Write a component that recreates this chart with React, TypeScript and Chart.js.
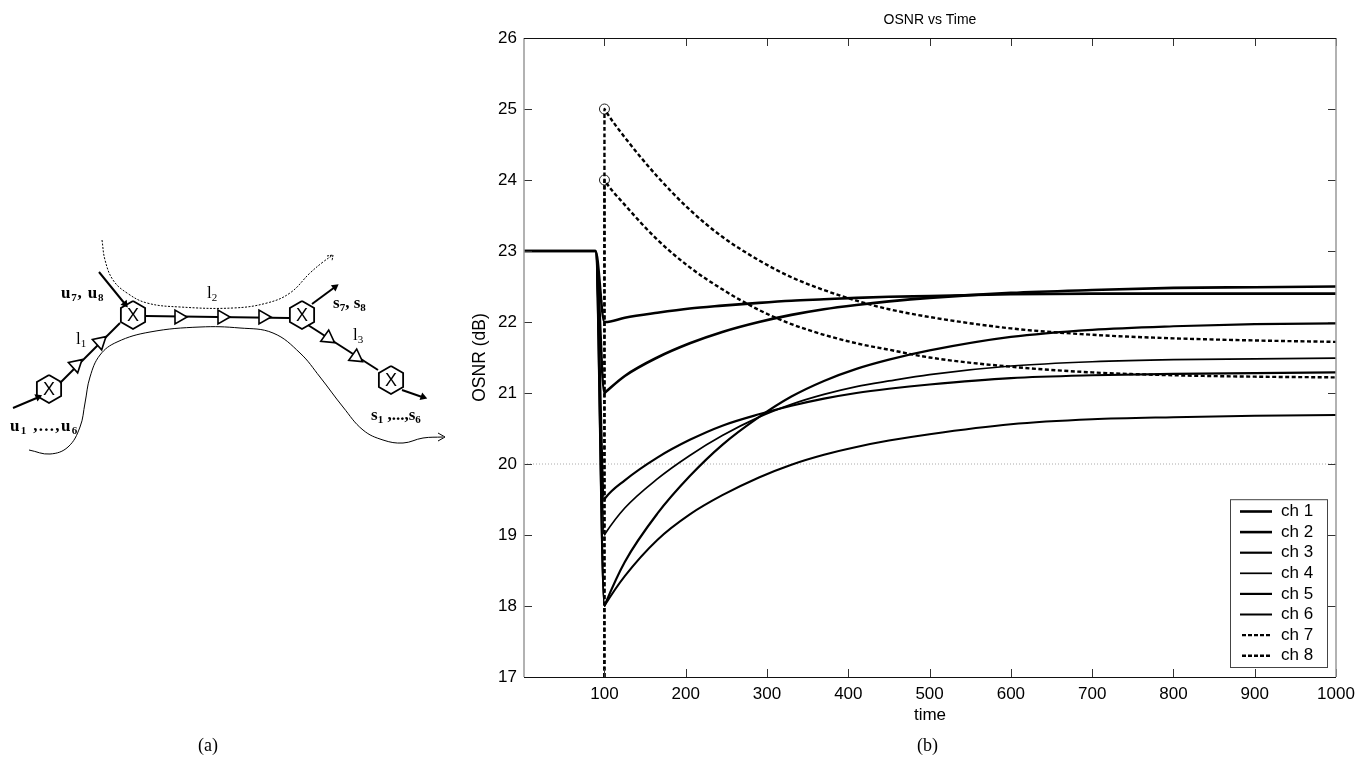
import React, { useEffect, useRef } from "react";
import { Chart, registerables } from "chart.js";

Chart.register(...registerables);

const SANS = "'Liberation Sans', Arial, sans-serif";

// ---- panel (b) data ----
const times = [1, 89, 100, 101, 125, 165, 205, 245, 290, 330, 370, 410, 450, 500, 600, 700, 800, 900, 1000];
const ch1 = [23, 23, 21, 21.01, 21.24, 21.5, 21.7, 21.86, 22, 22.1, 22.18, 22.24, 22.29, 22.34, 22.41, 22.45, 22.48, 22.49, 22.5];
const ch2 = [23, 23, 22, 22, 22.06, 22.13, 22.19, 22.23, 22.27, 22.3, 22.32, 22.34, 22.355, 22.365, 22.39, 22.4, 22.4, 22.4, 22.4];
const ch3 = [23, 23, 19.5, 19.52, 19.77, 20.09, 20.34, 20.54, 20.7, 20.82, 20.92, 21, 21.06, 21.12, 21.21, 21.25, 21.27, 21.28, 21.29];
const ch4 = [23, 23, 19, 19.02, 19.38, 19.79, 20.12, 20.4, 20.66, 20.84, 20.98, 21.09, 21.17, 21.26, 21.38, 21.44, 21.47, 21.48, 21.49];
const ch5 = [23, 23, 18, 18.03, 18.62, 19.3, 19.83, 20.27, 20.66, 20.95, 21.17, 21.34, 21.47, 21.6, 21.79, 21.89, 21.94, 21.97, 21.98];
const ch6 = [23, 23, 18, 18.02, 18.42, 18.93, 19.29, 19.56, 19.81, 19.99, 20.13, 20.24, 20.33, 20.42, 20.56, 20.63, 20.66, 20.68, 20.69];
const dashedTimes = [99.9, 100, 101, 125, 165, 205, 245, 290, 330, 370, 410, 450, 500, 600, 700, 800, 900, 1000];
const ch7 = [17, 25, 24.98, 24.6, 24.05, 23.58, 23.2, 22.87, 22.63, 22.45, 22.3, 22.18, 22.07, 21.91, 21.82, 21.77, 21.74, 21.72];
const ch8 = [17, 24, 23.98, 23.65, 23.16, 22.77, 22.46, 22.17, 21.97, 21.82, 21.7, 21.61, 21.5, 21.37, 21.29, 21.25, 21.23, 21.22];
const markerTimes = [100, 100];
const markerValues = [25, 24];
const refLineTimes = [1, 1000];
const refLineValues = [20, 20];
const xTicks = [100, 200, 300, 400, 500, 600, 700, 800, 900, 1000];
const yTicks = [17, 18, 19, 20, 21, 22, 23, 24, 25, 26];
const legendNames = ["ch 1", "ch 2", "ch 3", "ch 4", "ch 5", "ch 6", "ch 7", "ch 8"];
const lineWidths = [2.6, 2.6, 2.2, 1.7, 2.2, 2, 2.4, 2.4];

// ---- panel (a) schematic ----
const hexCentres: number[][] = [[49, 389], [133, 315], [302, 315], [391, 380]];
const links: number[][][] = [
  [[13, 408], [39, 397]],
  [[60, 383], [120, 323]],
  [[146, 316], [289, 318]],
  [[308, 325], [378, 370]],
  [[402, 390], [425, 398]],
  [[312, 304], [335, 287]],
  [[99, 272], [125, 304]],
];
const amplifiers: number[][] = [[76, 365, 48], [100, 342, 48], [179, 317, 90], [222, 317, 90], [263, 317, 90], [328, 338, 125], [356, 357, 125]];
const arrowHeads: number[][] = [[38, 397, 66], [335, 287, 54], [125, 304, 142], [423, 397, 110]];
const lowerCurve: number[][] = [[29, 450], [50, 454], [68, 447], [80, 427], [85, 403], [90, 377], [100, 355], [117, 342], [150, 332], [200, 327], [240, 328], [273, 333], [300, 353], [320, 377], [343, 407], [363, 430], [383, 440], [403, 443], [423, 438], [443, 437]];
const lowerTip: number[][] = [[438, 433], [445, 437], [438, 441]];
const upperCurve: number[][] = [[102, 240], [105, 260], [113, 280], [127, 293], [147, 303], [180, 307], [233, 308], [267, 303], [290, 293], [310, 273], [323, 262], [333, 255]];
const upperTip: number[][] = [[327, 256], [333, 255], [332, 261]];
const hexRadius = 14;

function toXY(xs: number[], ys: number[]) {
  return xs.map((x, i) => ({ x, y: ys[i] }));
}
function hexagon([cx, cy]: number[]) {
  const out = [];
  for (let i = 0; i <= 6; i++) {
    const a = (Math.PI / 3) * i;
    out.push({ x: cx + hexRadius * Math.sin(a), y: cy - hexRadius * Math.cos(a) });
  }
  return out;
}
const pts = (list: number[][]) => list.map(([x, y]) => ({ x, y }));

const plotFrame = {
  id: "plotFrame",
  afterDatasetsDraw(chart: any) {
    const { ctx, chartArea: a, scales } = chart;
    const tick = 8;
    ctx.save();
    ctx.strokeStyle = "#333";
    ctx.lineWidth = 1;
    ctx.beginPath();
    xTicks.forEach((v) => {
      const p = Math.round(scales.x.getPixelForValue(v)) + 0.5;
      ctx.moveTo(p, a.bottom);
      ctx.lineTo(p, a.bottom - tick);
      ctx.moveTo(p, a.top);
      ctx.lineTo(p, a.top + tick);
    });
    yTicks.forEach((v) => {
      const p = Math.round(scales.y.getPixelForValue(v)) + 0.5;
      ctx.moveTo(a.left, p);
      ctx.lineTo(a.left + tick, p);
      ctx.moveTo(a.right, p);
      ctx.lineTo(a.right - tick, p);
    });
    ctx.stroke();
    ctx.strokeStyle = "#999";
    ctx.lineWidth = 1.5;
    ctx.beginPath();
    ctx.moveTo(a.left, a.top);
    ctx.lineTo(a.left, a.bottom);
    ctx.moveTo(a.right, a.top);
    ctx.lineTo(a.right, a.bottom);
    ctx.stroke();
    ctx.strokeStyle = "#111";
    ctx.lineWidth = 1;
    ctx.beginPath();
    ctx.moveTo(a.left, a.top + 0.5);
    ctx.lineTo(a.right, a.top + 0.5);
    ctx.moveTo(a.left, a.bottom + 0.5);
    ctx.lineTo(a.right, a.bottom + 0.5);
    ctx.stroke();
    ctx.restore();
  },
};

const boxLegend = {
  id: "boxLegend",
  afterDraw(chart: any) {
    const { ctx, chartArea: a } = chart;
    const right = a.right - 9;
    const bottom = a.bottom - 10;
    const w = 97;
    const rowH = 20.6;
    const h = rowH * legendNames.length + 3;
    const left = right - w;
    const top = bottom - h;
    ctx.save();
    ctx.fillStyle = "#fff";
    ctx.fillRect(left, top, w, h);
    ctx.strokeStyle = "#444";
    ctx.lineWidth = 1;
    ctx.strokeRect(left + 0.5, top + 0.5, w, h);
    ctx.font = `17px ${SANS}`;
    ctx.textBaseline = "middle";
    ctx.textAlign = "left";
    legendNames.forEach((name, i) => {
      const y = top + 2 + rowH * (i + 0.5);
      const dash = i >= 6;
      ctx.strokeStyle = "#000";
      ctx.lineWidth = lineWidths[i];
      ctx.setLineDash(dash ? [4, 2] : []);
      ctx.beginPath();
      ctx.moveTo(left + (dash ? 12 : 10), y);
      ctx.lineTo(left + 42, y);
      ctx.stroke();
      ctx.setLineDash([]);
      ctx.fillStyle = "#000";
      ctx.fillText(name, left + 51, y);
    });
    ctx.restore();
  },
};

const solid = (label: string, data: number[], i: number) => ({
  label,
  data: toXY(times, data),
  borderColor: "#000",
  borderWidth: lineWidths[i],
  pointRadius: 0,
  showLine: true,
  cubicInterpolationMode: "monotone" as const,
  borderJoinStyle: "round" as const,
});
const dashed = (label: string, data: number[], i: number) => ({
  label,
  data: toXY(dashedTimes, data),
  borderColor: "#000",
  borderWidth: lineWidths[i],
  borderDash: [4, 2.5],
  pointRadius: 0,
  showLine: true,
  cubicInterpolationMode: "monotone" as const,
});

function drawOSNR(canvas: HTMLCanvasElement) {
  const tickFont = { family: SANS, size: 17 };
  return new Chart(canvas, {
    type: "scatter",
    data: {
      datasets: [
        solid("ch 1", ch1, 0),
        solid("ch 2", ch2, 1),
        solid("ch 3", ch3, 2),
        solid("ch 4", ch4, 3),
        solid("ch 5", ch5, 4),
        solid("ch 6", ch6, 5),
        dashed("ch 7", ch7, 6),
        dashed("ch 8", ch8, 7),
        {
          label: "peak",
          data: toXY(markerTimes, markerValues),
          pointRadius: 5,
          pointBorderColor: "#222",
          pointBackgroundColor: "rgba(0,0,0,0)",
          pointBorderWidth: 1,
          showLine: false,
        },
        {
          label: "reference",
          data: toXY(refLineTimes, refLineValues),
          borderColor: "#aaa",
          borderWidth: 1,
          borderDash: [1, 2],
          pointRadius: 0,
          showLine: true,
        },
      ] as any,
    },
    options: {
      responsive: false,
      animation: false,
      layout: { autoPadding: false, padding: 0 },
      plugins: {
        legend: { display: false },
        tooltip: { enabled: false },
        title: {
          display: true,
          text: "OSNR vs Time",
          color: "#000",
          font: { family: SANS, size: 14, weight: "normal" },
          padding: { top: 12, bottom: 9.2 },
        },
      },
      scales: {
        x: {
          type: "linear",
          min: 1,
          max: 1000,
          afterBuildTicks: (s: any) => {
            s.ticks = xTicks.map((value) => ({ value }));
          },
          afterFit: (s: any) => {
            s.height = 81;
          },
          grid: { display: false, drawTicks: false },
          border: { display: false },
          ticks: { color: "#000", font: tickFont, padding: 7, maxRotation: 0, autoSkip: false, callback: (v: any) => String(v) },
          title: { display: true, text: "time", color: "#000", font: tickFont, padding: { top: 0, bottom: 32 } },
        },
        y: {
          type: "linear",
          min: 17,
          max: 26,
          afterBuildTicks: (s: any) => {
            s.ticks = yTicks.map((value) => ({ value }));
          },
          afterFit: (s: any) => {
            s.width = 64;
          },
          grid: { display: false, drawTicks: false },
          border: { display: false },
          ticks: { color: "#000", font: tickFont, padding: 7 },
          title: { display: true, text: "OSNR (dB)", color: "#000", font: { family: SANS, size: 17.5 }, padding: { top: 10, bottom: 0 } },
        },
        margin: {
          type: "linear",
          position: "right",
          min: 0,
          max: 1,
          afterFit: (s: any) => {
            s.width = 64;
          },
          grid: { display: false, drawTicks: false },
          border: { display: false },
          ticks: { display: false },
        },
      },
    },
    plugins: [plotFrame, boxLegend],
  } as any);
}

function drawSchematic(canvas: HTMLCanvasElement) {
  const line = (data: any[], width: number, extra: any = {}) => ({
    data,
    borderColor: "#000",
    borderWidth: width,
    pointRadius: 0,
    showLine: true,
    ...extra,
  });
  return new Chart(canvas, {
    type: "scatter",
    data: {
      datasets: [
        {
          data: amplifiers.map(([x, y]) => ({ x, y })),
          pointStyle: "triangle",
          pointRadius: 8,
          pointRotation: amplifiers.map((a) => a[2]),
          pointBackgroundColor: "#fff",
          pointBorderColor: "#000",
          pointBorderWidth: 1.6,
          showLine: false,
          order: 0,
        },
        {
          data: arrowHeads.map(([x, y]) => ({ x, y })),
          pointStyle: "triangle",
          pointRadius: 4.5,
          pointRotation: arrowHeads.map((a) => a[2]),
          pointBackgroundColor: "#000",
          pointBorderColor: "#000",
          pointBorderWidth: 0,
          showLine: false,
          order: 0,
        },
        ...hexCentres.map((c) => line(hexagon(c), 1.8, { order: 1 })),
        ...links.map((l) => line(pts(l), 2, { order: 2 })),
        line(pts(lowerCurve), 1, { tension: 0.4, order: 3 }),
        line(pts(lowerTip), 1, { order: 3 }),
        line(pts(upperCurve), 1, { tension: 0.4, borderDash: [2, 1.5], order: 3 }),
        line(pts(upperTip), 1, { borderDash: [2, 1], order: 3 }),
      ] as any,
    },
    options: {
      responsive: false,
      animation: false,
      layout: { autoPadding: false, padding: 0 },
      plugins: { legend: { display: false }, tooltip: { enabled: false }, title: { display: false } },
      scales: {
        x: { type: "linear", min: 0, max: 460, display: false },
        y: { type: "linear", min: 230, max: 470, reverse: true, display: false },
      },
    },
  } as any);
}

const serifBold: React.CSSProperties = {
  position: "absolute",
  fontFamily: "'Liberation Serif', serif",
  fontWeight: "bold",
  fontSize: 17,
  lineHeight: "16px",
  color: "#000",
  whiteSpace: "nowrap",
};
const serifPlain: React.CSSProperties = { ...serifBold, fontWeight: "normal", fontSize: 17 };
const caption: React.CSSProperties = { ...serifPlain, fontSize: 18 };
const subStyle: React.CSSProperties = { fontSize: 11, verticalAlign: "-3px", lineHeight: 0 };
const sansMark: React.CSSProperties = { position: "absolute", fontFamily: SANS, fontSize: 18, lineHeight: "18px", color: "#000", transform: "translate(-50%,-50%)" };

export default function App() {
  const leftRef = useRef<HTMLCanvasElement>(null);
  const rightRef = useRef<HTMLCanvasElement>(null);
  useEffect(() => {
    const a = drawSchematic(leftRef.current!);
    const b = drawOSNR(rightRef.current!);
    return () => {
      a.destroy();
      b.destroy();
    };
  }, []);
  return (
    <div style={{ position: "absolute", left: 0, top: 0, width: 1366, height: 758, overflow: "hidden", background: "#fff" }}>
      <canvas ref={leftRef} width={460} height={240} style={{ position: "absolute", left: 0, top: 230, width: 460, height: 240 }} />
      <canvas ref={rightRef} width={940} height={758} style={{ position: "absolute", left: 460, top: 0, width: 940, height: 758 }} />
      {hexCentres.map(([x, y], i) => (
        <span key={i} style={{ ...sansMark, left: x, top: y }}>X</span>
      ))}
      <div style={{ ...serifBold, left: 61, top: 285, letterSpacing: 0.8 }}>u<sub style={subStyle}>7</sub>, u<sub style={subStyle}>8</sub></div>
      <div style={{ ...serifBold, left: 333, top: 295 }}>s<sub style={subStyle}>7</sub>, s<sub style={subStyle}>8</sub></div>
      <div style={{ ...serifBold, left: 10, top: 418, letterSpacing: 1.3 }}>u<sub style={subStyle}>1</sub> ,...,u<sub style={subStyle}>6</sub></div>
      <div style={{ ...serifBold, left: 371, top: 407 }}>s<sub style={subStyle}>1</sub> ,...,s<sub style={subStyle}>6</sub></div>
      <div style={{ ...serifPlain, left: 207, top: 285 }}>l<sub style={subStyle}>2</sub></div>
      <div style={{ ...serifPlain, left: 76, top: 331 }}>l<sub style={subStyle}>1</sub></div>
      <div style={{ ...serifPlain, left: 353, top: 327 }}>l<sub style={subStyle}>3</sub></div>
      <div style={{ ...caption, left: 198, top: 737 }}>(a)</div>
      <div style={{ ...caption, left: 917, top: 737 }}>(b)</div>
    </div>
  );
}
